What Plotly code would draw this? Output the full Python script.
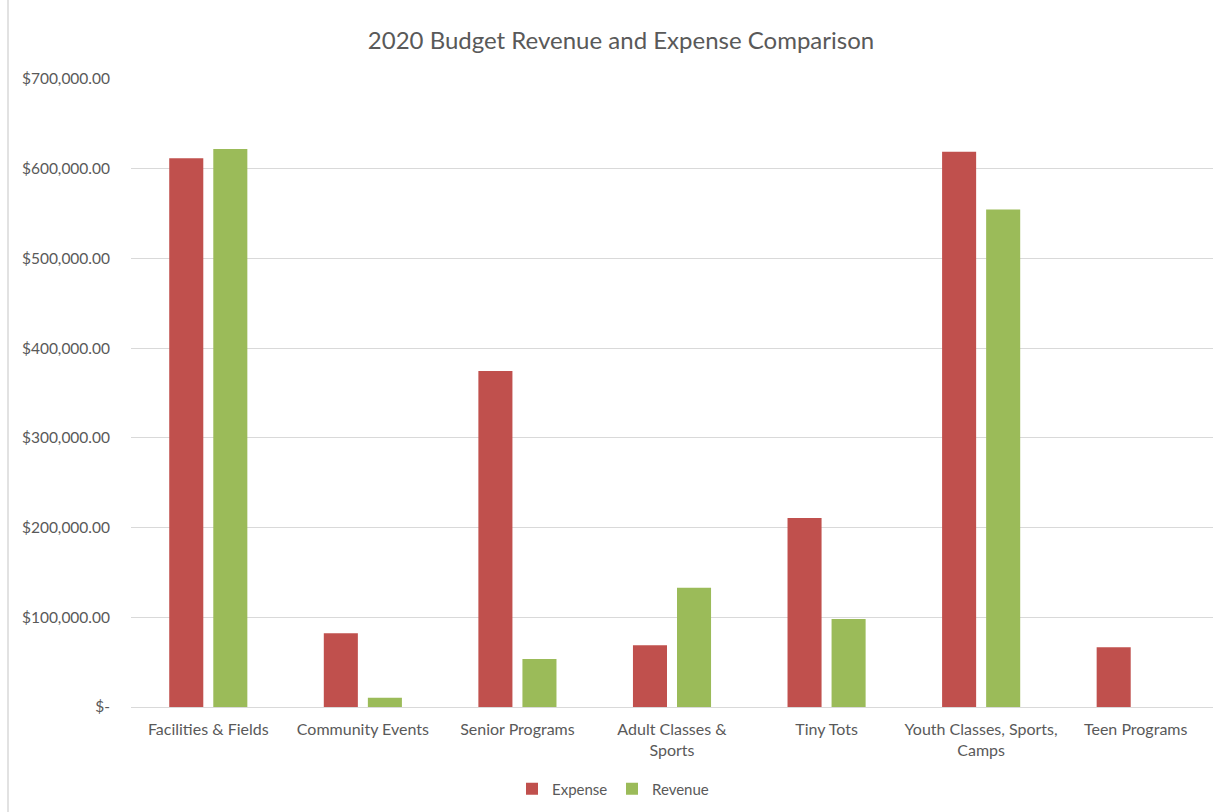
import plotly.graph_objects as go

# Program areas and their 2020 budget figures (USD)
categories = [
    "Facilities & Fields",
    "Community Events",
    "Senior Programs",
    "Adult Classes &<br>Sports",
    "Tiny Tots",
    "Youth Classes, Sports,<br>Camps",
    "Teen Programs",
]
expense = [611800, 82100, 374500, 68700, 210800, 619000, 66500]
revenue = [621900, 10300, 53500, 133000, 98100, 554600, 0]

tick_values = [0, 100000, 200000, 300000, 400000, 500000, 600000, 700000]
tick_labels = ["$-", "$100,000.00", "$200,000.00", "$300,000.00",
               "$400,000.00", "$500,000.00", "$600,000.00", "$700,000.00"]

RED = "#C0504D"
GREEN = "#9BBB59"
TEXT = "#595959"
GRID = "#D9D9D9"
FONT = "Lato, 'Open Sans', sans-serif"

fig = go.Figure()
fig.add_trace(go.Bar(name="Expense", x=categories, y=expense, legend="legend",
                     showlegend=True,
                     marker=dict(color=RED, line=dict(width=0))))
fig.add_trace(go.Bar(name="Revenue", x=categories, y=revenue, legend="legend2",
                     showlegend=True,
                     marker=dict(color=GREEN, line=dict(width=0))))

W, H = 1227, 812
L, R, T, B = 131, 14, 79, 105
pw = W - L - R
ph = H - T - B

legend_style = dict(orientation="h", xref="container", yref="container",
                    xanchor="left", yanchor="middle", y=1 - 789 / H,
                    font=dict(size=15, color=TEXT), itemwidth=30,
                    bgcolor="rgba(0,0,0,0)")

fig.update_layout(
    width=W, height=H,
    showlegend=True,
    margin=dict(l=L, r=R, t=T, b=B, autoexpand=False),
    paper_bgcolor="white", plot_bgcolor="white",
    font=dict(family=FONT, color=TEXT, size=15.5),
    barmode="group", bargap=0.43, bargroupgap=0.227,
    title=dict(text="2020 Budget Revenue and Expense Comparison",
               x=621 / W, xref="container", xanchor="center",
               y=1 - 41 / H, yanchor="middle",
               font=dict(family=FONT, size=24, color=TEXT)),
    xaxis=dict(showgrid=False, showline=True, linecolor=GRID, linewidth=1,
               ticks="", ticklabelstandoff=8, automargin=False,
               tickfont=dict(size=16, color=TEXT)),
    yaxis=dict(range=[0, 700000], tickvals=tick_values, ticktext=tick_labels,
               showgrid=True, gridcolor=GRID, gridwidth=1, zeroline=False,
               showline=False, ticks="", ticklabelstandoff=20,
               automargin=False, tickfont=dict(size=15.5, color=TEXT)),
    legend=dict(x=512 / W, **legend_style),
    legend2=dict(x=612 / W, **legend_style),
    shapes=[dict(type="line", xref="paper", yref="paper",
                 x0=(8 - L) / pw, x1=(8 - L) / pw,
                 y0=-B / ph - 0.1, y1=1 + T / ph + 0.1,
                 line=dict(color=GRID, width=1.5))],
)

fig.write_html("out.html")
